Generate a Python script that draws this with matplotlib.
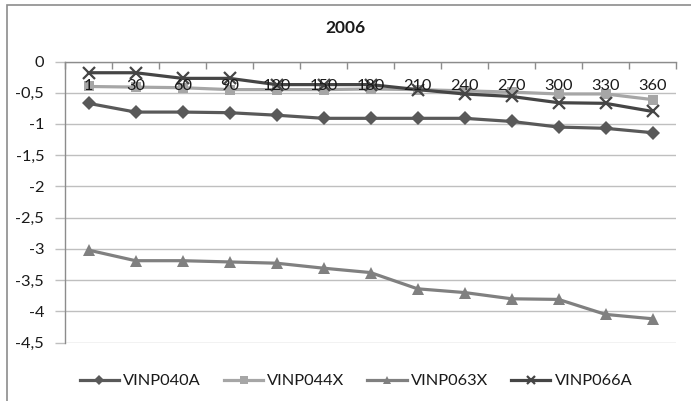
import matplotlib
matplotlib.use("Agg")
import matplotlib.pyplot as plt
import matplotlib.transforms as mtransforms
from matplotlib.patches import Rectangle
from matplotlib.ticker import FuncFormatter, MultipleLocator
import numpy as np

plt.rcParams['font.family'] = ['Lato', 'DejaVu Sans']

title = "2006"
days = ["1", "30", "60", "90", "120", "150", "180", "210", "240", "270", "300", "330", "360"]

vinp040a = [-0.67, -0.81, -0.81, -0.82, -0.86, -0.91, -0.91, -0.91, -0.91, -0.96, -1.05, -1.07, -1.14]
vinp044x = [-0.40, -0.41, -0.42, -0.45, -0.45, -0.45, -0.44, -0.45, -0.47, -0.49, -0.52, -0.52, -0.61]
vinp063x = [-3.02, -3.19, -3.19, -3.21, -3.23, -3.31, -3.38, -3.64, -3.70, -3.80, -3.81, -4.05, -4.12]
vinp066a = [-0.18, -0.18, -0.27, -0.27, -0.37, -0.37, -0.37, -0.45, -0.52, -0.56, -0.66, -0.67, -0.80]

series = [
    ("VINP040A", vinp040a, "#595959", "D", 7.5),
    ("VINP044X", vinp044x, "#a6a6a6", "s", 7.5),
    ("VINP063X", vinp063x, "#808080", "^", 9),
    ("VINP066A", vinp066a, "#454545", "x", 8.5),
]

FS = 11.8

fig = plt.figure(figsize=(6.91, 4.01), dpi=100)
fig.patches.append(Rectangle((7 / 691, -0.02), 1.1, 1 - 5 / 401 + 0.02,
                             transform=fig.transFigure, fill=False,
                             edgecolor="#8c8c8c", linewidth=1.2))

ax = fig.add_axes([65 / 691, 1 - 342.5 / 401, (676 - 65) / 691, (342.5 - 61.5) / 401])

x = np.arange(len(days))
for name, vals, color, marker, ms in series:
    kw = dict(markeredgewidth=1.6) if marker == "x" else dict(markeredgewidth=0)
    ax.plot(x, vals, color=color, linewidth=2.3, marker=marker, markersize=ms,
            markerfacecolor=color, markeredgecolor=color, label=name, zorder=3, **kw)

ax.set_xlim(-0.5, len(days) - 0.5)
ax.set_ylim(-4.5, 0)
ax.yaxis.set_major_locator(MultipleLocator(0.5))
ax.yaxis.set_major_formatter(FuncFormatter(
    lambda v, p: ("%g" % v).replace(".", ",") if abs(v) > 1e-9 else "0"))
ax.grid(axis="y", color="#bfbfbf", linewidth=1.0, zorder=0)
ax.tick_params(axis="y", length=7, width=1.0, color="#bfbfbf", pad=8,
               labelsize=FS, labelcolor="#1a1a1a")

for s in ["bottom", "right"]:
    ax.spines[s].set_visible(False)
ax.spines["left"].set_color("#8c8c8c")
ax.spines["left"].set_linewidth(1.0)
ax.spines["top"].set_color("#8c8c8c")
ax.spines["top"].set_linewidth(1.0)

# category axis sits at y = 0 (top of the plot), tick marks between categories
ax.xaxis.tick_top()
ax.set_xticks(np.arange(-0.5, len(days), 1.0))
ax.set_xticklabels([])
ax.tick_params(axis="x", direction="in", length=5, width=1.0, color="#8c8c8c")

offset = mtransforms.ScaledTranslation(0, -20.5 / 72, fig.dpi_scale_trans)
for i, lab in enumerate(days):
    ax.text(i, 0, lab, transform=ax.transData + offset, ha="center", va="baseline",
            fontsize=FS, color="#1a1a1a", zorder=5)

fig.text(0.5, 1 - 28 / 401, title, ha="center", va="center",
         fontsize=12.5, fontweight="bold", color="#1a1a1a")

leg = fig.legend(loc="center", bbox_to_anchor=(356 / 691, 1 - 381 / 401), ncol=4,
                 frameon=False, fontsize=FS, handlelength=2.4, columnspacing=1.4,
                 handletextpad=0.25, markerscale=0.7)
for t in leg.get_texts():
    t.set_color("#1a1a1a")

fig.savefig("out.png", dpi=100)
